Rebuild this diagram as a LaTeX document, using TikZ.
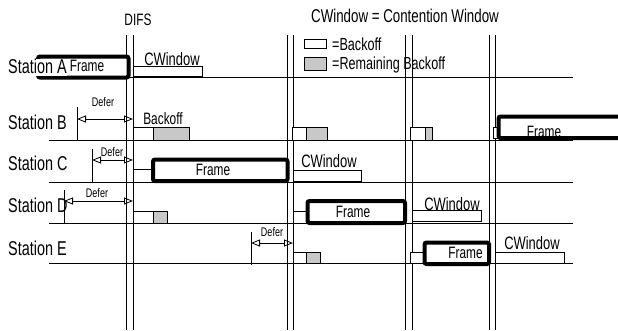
\documentclass[tikz,border=0pt]{standalone}
\usepackage{fontspec}
\setmainfont{Liberation Sans}[FakeStretch=0.72]
\usetikzlibrary{arrows.meta}
\definecolor{boxgray}{HTML}{C8C8C8}
\tikzset{
	slotnode/.style={
			shape=rectangle,
			draw=black,
			line width=0.8pt,
			fill=white,
			anchor=south west,
			inner sep=0pt,
			outer sep=0pt
		},
	remainnode/.style={
			slotnode,
			fill=boxgray
		},
	framenode/.style={
			slotnode,
			line width=4pt,
			rounded corners=2pt
		}
}
\tikzset{
	stationtext/.style={anchor=west, inner sep=0pt, font=\fontsize{20}{22}\selectfont},
	cwtext/.style={inner sep=0pt, font=\fontsize{18}{20}\selectfont},
	frametext/.style={inner sep=0pt, font=\fontsize{16.5}{18}\selectfont},
	defertext/.style={inner sep=0pt, font=\fontsize{12.5}{14}\selectfont},
	legendtext/.style={anchor=west, inner sep=0pt, font=\fontsize{17.5}{19}\selectfont},
	gridline/.style={line width=0.8pt},
	stationline/.style={line width=0.8pt},
	deferarrow/.style={line width=0.8pt, {Triangle[open, length=9pt, width=7pt]}-{Triangle[open, length=9pt, width=7pt]}}
}
\begin{document}
\begin{tikzpicture}[x=1pt, y=-1pt]

  \clip (0,0) rectangle (618,330);

  \node[inner sep=0pt, font=\fontsize{16.5}{18}\selectfont] (difs) at (138,20) {DIFS};
  \node[inner sep=0pt, font=\fontsize{18.5}{20}\selectfont] (title) at (405,16) {CWindow = Contention Window};

  \node[slotnode, minimum width=22pt, minimum height=9pt] (keyb) at (304,48) {};
  \node[remainnode, minimum width=22pt, minimum height=13pt] (keyr) at (304,70) {};
  \node[legendtext] (keybt) at (332,44) {=Backoff};
  \node[legendtext] (keyrt) at (332,65) {=Remaining Backoff};

  \draw[gridline] (126,35) -- (126,330);
  \draw[gridline] (133,35) -- (133,330);
  \draw[gridline] (287,35) -- (287,330);
  \draw[gridline] (293,35) -- (293,330);
  \draw[gridline] (405,35) -- (405,330);
  \draw[gridline] (412,35) -- (412,330);
  \draw[gridline] (489,35) -- (489,330);
  \draw[gridline] (495,35) -- (495,330);

  \draw[stationline] (38,77) -- (573,77);
  \draw[stationline] (49,140) -- (573,140);
  \draw[stationline] (49,182) -- (573,182);
  \draw[stationline] (49,223) -- (573,223);
  \draw[stationline] (49,263) -- (573,263);

  % station A
  \node[framenode, minimum width=90.5pt, minimum height=21pt] (fa) at (38,77.5) {};
  \node[anchor=base west, inner sep=0pt, fill=white, text height=14.5pt, text depth=2.5pt,
        font=\fontsize{20}{22}\selectfont] (sa) at (8,73) {Station A};
  \node[frametext] (fat) at (87,66) {Frame};
  \node[slotnode, minimum width=69pt, minimum height=10pt] (cwa) at (133,76) {};
  \node[cwtext] (cwat) at (172,59) {CWindow};

  % station B
  \node[stationtext] (sb) at (8,122.5) {Station B};
  \coordinate (tb1) at (77,107);
  \coordinate (tb2) at (77,141);
  \draw[gridline] (tb1) -- (tb2);
  \coordinate (db1) at (77,119);
  \coordinate (db2) at (133,119);
  \draw[deferarrow] (db1) -- (db2);
  \node[defertext] (dbt) at (103,102) {Defer};
  \node[slotnode, minimum width=20pt, minimum height=13pt] (b1) at (133,140) {};
  \node[remainnode, minimum width=36pt, minimum height=13pt] (b2) at (153,140) {};
  \node[frametext] (bt) at (163,118.5) {Backoff};
  \node[slotnode, minimum width=14pt, minimum height=13pt] (b3) at (292,140) {};
  \node[remainnode, minimum width=21pt, minimum height=13pt] (b4) at (306,140) {};
  \node[slotnode, minimum width=15pt, minimum height=13pt] (b5) at (410,140) {};
  \node[remainnode, minimum width=7pt, minimum height=13pt] (b6) at (425,140) {};
  \node[slotnode, minimum width=6pt, minimum height=11pt] (b7) at (493,138) {};
  \node[framenode, minimum width=140pt, minimum height=21.5pt] (fb) at (498.5,138) {};
  \node[frametext] (fbt) at (544,132) {Frame};

  % station C
  \node[stationtext] (sc) at (8,163) {Station C};
  \coordinate (tc1) at (92,149);
  \coordinate (tc2) at (92,183);
  \draw[gridline] (tc1) -- (tc2);
  \coordinate (dc1) at (92,160);
  \coordinate (dc2) at (133,160);
  \draw[deferarrow] (dc1) -- (dc2);
  \node[defertext] (dct) at (112,152) {Defer};
  \node[slotnode, minimum width=20pt, minimum height=13pt] (c1) at (133,182) {};
  \node[framenode, minimum width=134.5pt, minimum height=21.5pt] (fc) at (153,181) {};
  \node[frametext] (fct) at (213,170) {Frame};
  \node[slotnode, minimum width=68pt, minimum height=11pt] (cwc) at (293,181) {};
  \node[cwtext] (cwct) at (329,161) {CWindow};

  % station D
  \node[stationtext] (sd) at (8,205) {Station D};
  \coordinate (td1) at (64,190);
  \coordinate (td2) at (64,224);
  \draw[gridline] (td1) -- (td2);
  \coordinate (dd1) at (64,201);
  \coordinate (dd2) at (133,201);
  \draw[deferarrow] (dd1) -- (dd2);
  \node[defertext] (ddt) at (97,193) {Defer};
  \node[slotnode, minimum width=20pt, minimum height=12pt] (d1) at (133,223) {};
  \node[remainnode, minimum width=14pt, minimum height=12pt] (d2) at (153,223) {};
  \node[slotnode, minimum width=14.5pt, minimum height=12pt] (d3) at (293,223) {};
  \node[framenode, minimum width=97.5pt, minimum height=22pt] (fd) at (307.5,223) {};
  \node[frametext] (fdt) at (353,212) {Frame};
  \node[slotnode, minimum width=69pt, minimum height=11pt] (cwd) at (412,221) {};
  \node[cwtext] (cwdt) at (452,204) {CWindow};

  % station E
  \node[stationtext] (se) at (8,248) {Station E};
  \coordinate (te1) at (251,232);
  \coordinate (te2) at (251,265);
  \draw[gridline] (te1) -- (te2);
  \coordinate (de1) at (251,243);
  \coordinate (de2) at (293,243);
  \draw[deferarrow] (de1) -- (de2);
  \node[defertext] (det) at (272,232) {Defer};
  \node[slotnode, minimum width=13pt, minimum height=11pt] (e1) at (293,263) {};
  \node[remainnode, minimum width=14pt, minimum height=11pt] (e2) at (306,263) {};
  \node[slotnode, minimum width=14.5pt, minimum height=11pt] (e3) at (410,263) {};
  \node[framenode, minimum width=64.5pt, minimum height=21.5pt] (fe) at (424.5,264) {};
  \node[frametext] (fet) at (465.5,253) {Frame};
  \node[slotnode, minimum width=69pt, minimum height=11pt] (cwe) at (495,263) {};
  \node[cwtext] (cwet) at (532,243) {CWindow};

\end{tikzpicture}
\end{document}
